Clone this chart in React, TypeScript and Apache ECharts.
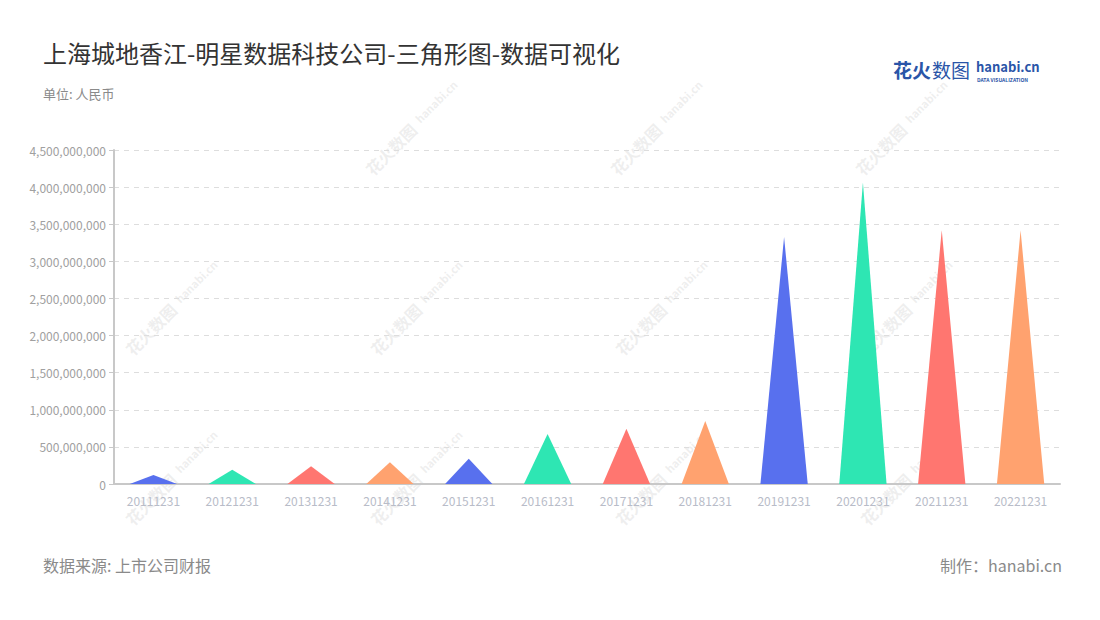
import React, { useEffect, useRef } from "react";
import * as echarts from "echarts";

const categories = [
  "20111231", "20121231", "20131231", "20141231", "20151231", "20161231",
  "20171231", "20181231", "20191231", "20201231", "20211231", "20221231",
];
const values = [
  121000000, 193000000, 238000000, 292000000, 341000000, 675000000,
  746000000, 850000000, 3328000000, 4062000000, 3418000000, 3420000000,
];
const palette = ["#5870ee", "#2ee6b3", "#ff7670", "#ffa26f"];
const titleText = "上海城地香江-明星数据科技公司-三角形图-数据可视化";
const subtitleText = "单位: 人民币";
const sourceText = "数据来源: 上市公司财报";
const makerText = "制作：hanabi.cn";

const FONT = "'Noto Sans CJK SC', 'Noto Sans', sans-serif";

const watermarkPositions = [
  [400, 140], [645, 140], [890, 140],
  [160, 320], [405, 320], [650, 320], [895, 320],
  [160, 490], [405, 490], [650, 490], [895, 490],
];

export default function App() {
  const ref = useRef<HTMLDivElement>(null);
  useEffect(() => {
    if (!ref.current) return;
    const chart = echarts.init(ref.current, null, { renderer: "svg" });
    const watermarks = watermarkPositions.map(([x, y]) => ({
      type: "group",
      x,
      y,
      rotation: Math.PI / 4,
      silent: true,
      z: -10,
      children: [
        {
          type: "text",
          x: -45,
          y: 0,
          style: {
            text: "花火数图",
            font: `bold 16px ${FONT}`,
            fill: "rgba(190,190,190,0.25)",
            verticalAlign: "middle",
          },
        },
        {
          type: "text",
          x: 26,
          y: -2,
          style: {
            text: "hanabi.cn",
            font: `bold 11px ${FONT}`,
            fill: "rgba(190,190,190,0.25)",
            verticalAlign: "middle",
          },
        },
      ],
    }));
    chart.setOption({
      animation: false,
      backgroundColor: "#ffffff",
      grid: { left: 114, right: 40, top: 150, bottom: 136 },
      xAxis: {
        type: "category",
        data: categories,
        axisLine: { lineStyle: { color: "#c8c8c8", width: 2 } },
        axisTick: { alignWithLabel: true, lineStyle: { color: "#c8c8c8" } },
        axisLabel: { color: "#b8bcc8", fontSize: 12, fontFamily: FONT, margin: 10 },
      },
      yAxis: {
        type: "value",
        min: 0,
        max: 4500000000,
        interval: 500000000,
        axisLine: { show: true, lineStyle: { color: "#c8c8c8", width: 2 } },
        axisTick: { show: true, lineStyle: { color: "#c8c8c8" } },
        axisLabel: {
          color: "#a0a0a0",
          fontSize: 12,
          fontFamily: FONT,
          formatter: (v: number) => v.toLocaleString("en-US"),
        },
        splitLine: { lineStyle: { color: "#dddddd", type: [5, 5] } },
      },
      series: [
        {
          type: "custom",
          data: values.map((v, i) => [i, v]),
          encode: { x: 0, y: 1 },
          renderItem: (params: any, api: any) => {
            const idx = api.value(0);
            const v = api.value(1);
            const top = api.coord([idx, v]);
            const base = api.coord([idx, 0]);
            const w = api.size([1, 0])[0] * 0.6;
            return {
              type: "polygon",
              shape: {
                points: [
                  [base[0] - w / 2, base[1]],
                  [top[0], top[1]],
                  [base[0] + w / 2, base[1]],
                ],
              },
              style: { fill: palette[params.dataIndex % palette.length] },
            };
          },
        },
      ],
      graphic: [
        ...watermarks,
        {
          type: "text",
          left: 43,
          top: 40,
          style: { text: titleText, font: `24px ${FONT}`, fill: "#333333" },
        },
        {
          type: "text",
          left: 43,
          top: 87,
          style: { text: subtitleText, font: `13px ${FONT}`, fill: "#8a8a8a" },
        },
        {
          type: "text",
          left: 43,
          top: 557,
          style: { text: sourceText, font: `16px ${FONT}`, fill: "#8a8a8a" },
        },
        {
          type: "text",
          right: 38,
          top: 557,
          style: { text: makerText, font: `16px ${FONT}`, fill: "#8a8a8a" },
        },
        {
          type: "text",
          left: 893,
          top: 60,
          style: { text: "花火", font: `bold 19px ${FONT}`, fill: "#2a55a8" },
        },
        {
          type: "text",
          left: 932,
          top: 60,
          style: { text: "数图", font: `19px ${FONT}`, fill: "#2a55a8" },
        },
        {
          type: "text",
          left: 976,
          top: 60,
          style: { text: "hanabi.cn", font: `bold 13px ${FONT}`, fill: "#2a55a8" },
        },
        {
          type: "text",
          left: 977,
          top: 77,
          style: { text: "DATA VISUALIZATION", font: `bold 5px ${FONT}`, fill: "#2a55a8" },
        },
      ],
    });
    return () => chart.dispose();
  }, []);
  return (
    <div
      ref={ref}
      style={{ position: "absolute", left: 0, top: 0, width: 1100, height: 620 }}
    />
  );
}
